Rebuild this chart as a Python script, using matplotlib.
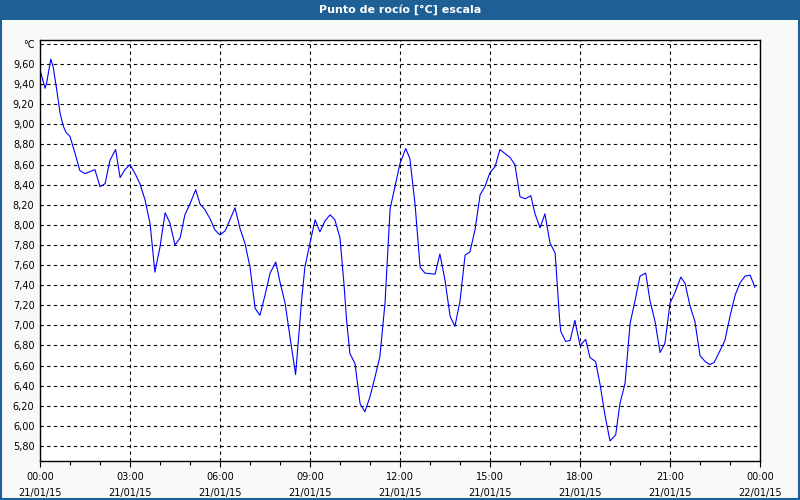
import matplotlib
matplotlib.use("Agg")
import matplotlib.pyplot as plt
from matplotlib.patches import Rectangle
from matplotlib.ticker import FixedLocator, MultipleLocator

# dew point readings, hours since 21/01/15 00:00
hours = [0.03, 0.17, 0.22, 0.36, 0.44, 0.56, 0.67, 0.78, 0.87, 1.0, 1.17, 1.33,
         1.5, 1.83, 2.0, 2.17, 2.33, 2.52, 2.67, 2.83, 3.0, 3.17, 3.33, 3.5,
         3.67, 3.83, 4.0, 4.17, 4.33, 4.5, 4.67, 4.83, 5.0, 5.19, 5.33, 5.5,
         5.67, 5.83, 6.0, 6.17, 6.33, 6.5, 6.67, 6.83, 7.0, 7.17, 7.33, 7.5,
         7.67, 7.86, 8.0, 8.17, 8.33, 8.52, 8.61, 8.72, 8.83, 9.0, 9.17, 9.33,
         9.5, 9.67, 9.83, 10.0, 10.13, 10.22, 10.33, 10.5, 10.67, 10.83, 11.0,
         11.17, 11.33, 11.5, 11.67, 11.83, 12.0, 12.19, 12.33, 12.5, 12.67,
         12.83, 13.17, 13.33, 13.5, 13.67, 13.83, 14.0, 14.17, 14.33, 14.5,
         14.67, 14.83, 15.0, 15.17, 15.33, 15.5, 15.67, 15.83, 16.0, 16.17,
         16.36, 16.5, 16.67, 16.83, 17.0, 17.17, 17.33, 17.36, 17.52, 17.67,
         17.83, 18.0, 18.19, 18.33, 18.52, 18.67, 18.83, 19.0, 19.19, 19.33,
         19.5, 19.67, 19.83, 20.0, 20.19, 20.33, 20.5, 20.67, 20.83, 21.0,
         21.17, 21.36, 21.5, 21.67, 21.83, 22.0, 22.17, 22.33, 22.47, 22.67,
         22.83, 23.0, 23.17, 23.33, 23.5, 23.67, 23.83]
dew_point = [9.51, 9.36, 9.41, 9.65, 9.57, 9.34, 9.11, 8.98, 8.92, 8.88, 8.71, 8.54,
             8.51, 8.55, 8.38, 8.41, 8.64, 8.75, 8.47, 8.55, 8.60, 8.51, 8.41, 8.25,
             8.01, 7.53, 7.78, 8.12, 8.02, 7.80, 7.87, 8.10, 8.21, 8.35, 8.21, 8.15,
             8.06, 7.95, 7.90, 7.94, 8.05, 8.17, 7.96, 7.82, 7.58, 7.17, 7.10, 7.30,
             7.52, 7.63, 7.43, 7.22, 6.89, 6.51, 6.84, 7.25, 7.58, 7.82, 8.05, 7.93,
             8.04, 8.10, 8.05, 7.87, 7.42, 7.05, 6.72, 6.62, 6.22, 6.14, 6.29,
             6.49, 6.69, 7.22, 8.16, 8.38, 8.61, 8.76, 8.66, 8.21, 7.58,
             7.52, 7.51, 7.71, 7.45, 7.09, 6.99, 7.24, 7.70, 7.73, 7.95,
             8.30, 8.38, 8.52, 8.58, 8.75, 8.71, 8.67, 8.60, 8.28, 8.26,
             8.29, 8.11, 7.97, 8.11, 7.82, 7.72, 7.02, 6.94, 6.84, 6.85,
             7.05, 6.80, 6.86, 6.68, 6.64, 6.41, 6.11, 5.85, 5.91, 6.22,
             6.42, 7.02, 7.24, 7.49, 7.52, 7.25, 7.04, 6.73, 6.82, 7.22,
             7.33, 7.48, 7.42, 7.19, 7.04, 6.70, 6.64, 6.61, 6.63, 6.75,
             6.85, 7.09, 7.30, 7.42, 7.49, 7.50, 7.38]

y_ticks = [5.8, 6.0, 6.2, 6.4, 6.6, 6.8, 7.0, 7.2, 7.4, 7.6, 7.8, 8.0, 8.2,
           8.4, 8.6, 8.8, 9.0, 9.2, 9.4, 9.6, 9.8]
y_labels = ["5,80", "6,00", "6,20", "6,40", "6,60", "6,80", "7,00", "7,20",
            "7,40", "7,60", "7,80", "8,00", "8,20", "8,40", "8,60", "8,80",
            "9,00", "9,20", "9,40", "9,60", "\u00b0C"]
x_ticks = [0, 3, 6, 9, 12, 15, 18, 21, 24]
x_labels = ["00:00\n21/01/15", "03:00\n21/01/15", "06:00\n21/01/15",
            "09:00\n21/01/15", "12:00\n21/01/15", "15:00\n21/01/15",
            "18:00\n21/01/15", "21:00\n21/01/15", "00:00\n22/01/15"]
title = "Punto de roc\u00edo [\u00b0C] escala"

fig = plt.figure(figsize=(8, 5), dpi=100, facecolor="#f8faf8")
ax = fig.add_axes([0.05, 0.078, 0.90, 0.842])
ax.set_facecolor("white")

ax.plot(hours, dew_point, color="#0000ff", linewidth=0.8)

ax.set_xlim(0, 24)
ax.set_ylim(5.65, 9.84)
ax.xaxis.set_major_locator(FixedLocator(x_ticks))
ax.xaxis.set_minor_locator(MultipleLocator(1))
ax.set_xticklabels(x_labels, fontsize=7, linespacing=1.7)
ax.set_yticks(y_ticks)
ax.set_yticklabels(y_labels, fontsize=7)
ax.tick_params(axis="y", length=0, pad=4)
ax.tick_params(axis="x", which="major", length=4, width=0.8, pad=4)
ax.tick_params(axis="x", which="minor", length=3, width=0.8)

ax.grid(True, which="major", color="black", linestyle=(0, (3, 3)), linewidth=0.8)
for s in ax.spines.values():
    s.set_linewidth(1.0)
    s.set_color("black")

# title bar and window frame
fig.patches.append(Rectangle((0, 0.96), 1, 0.04, transform=fig.transFigure,
                             facecolor="#1e5f95", edgecolor="none", zorder=0))
fig.patches.append(Rectangle((0.001, 0.002), 0.998, 0.996, transform=fig.transFigure,
                             facecolor="none", edgecolor="#1e5f95", linewidth=1.5))
fig.text(0.5, 0.98, title, color="white", fontsize=8, fontweight="bold",
         ha="center", va="center")

fig.savefig("out.png", dpi=100, facecolor=fig.get_facecolor())
